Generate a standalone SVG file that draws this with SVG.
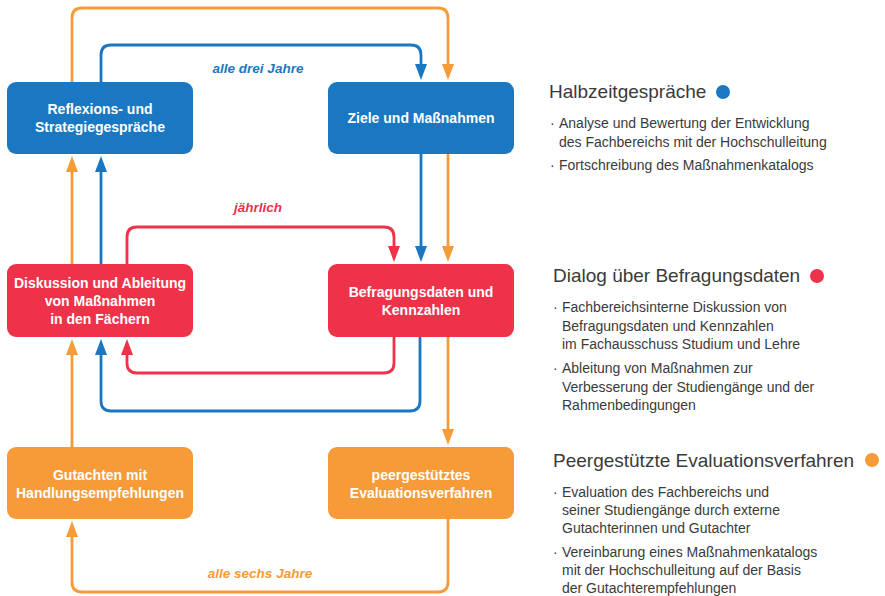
<svg xmlns="http://www.w3.org/2000/svg" width="885" height="596" viewBox="0 0 885 596">
<style>
.blue{fill:#1a77c2}.red{fill:#ee3249}.orange{fill:#f79a38}
.nt{font-family:"Liberation Sans",Arial,sans-serif;font-weight:bold;font-size:14px;fill:#fff;text-anchor:middle}
.lb{font-family:"Liberation Sans",Arial,sans-serif;font-weight:bold;font-style:italic;font-size:13.5px;text-anchor:middle}
.h{font-family:"Liberation Sans",Arial,sans-serif;font-size:19px;fill:#3a3a3a}
.t{font-family:"Liberation Sans",Arial,sans-serif;font-size:14px;fill:#3a3a3a}
.c{fill:none;stroke-width:2.8;stroke-linejoin:round}
.cb{stroke:#1a77c2}.cr{stroke:#ee3249}.co{stroke:#f79a38}
</style>
<defs>
<marker id="mb" viewBox="0 -6 16 12" refX="1" refY="0" markerWidth="16" markerHeight="12" markerUnits="userSpaceOnUse" orient="auto"><path d="M0,-6 L16,0 L0,6z" fill="#1a77c2"/></marker>
<marker id="mr" viewBox="0 -6 16 12" refX="1" refY="0" markerWidth="16" markerHeight="12" markerUnits="userSpaceOnUse" orient="auto"><path d="M0,-6 L16,0 L0,6z" fill="#ee3249"/></marker>
<marker id="mo" viewBox="0 -6 16 12" refX="1" refY="0" markerWidth="16" markerHeight="12" markerUnits="userSpaceOnUse" orient="auto"><path d="M0,-6 L16,0 L0,6z" fill="#f79a38"/></marker>
</defs>

<g id="connectors">
<path class="c co" marker-end="url(#mo)" d="M72,82 V18 Q72,8 82,8 H438 Q448,8 448,18 V65"/>
<path class="c co" marker-end="url(#mo)" d="M448,154 V247"/>
<path class="c co" marker-end="url(#mo)" d="M448,337 V430"/>
<path class="c co" marker-end="url(#mo)" d="M448,519 V582 Q448,592 438,592 H82 Q72,592 72,582 V536"/>
<path class="c co" marker-end="url(#mo)" d="M72,447 V354"/>
<path class="c co" marker-end="url(#mo)" d="M72,264 V171"/>

<path class="c cb" marker-end="url(#mb)" d="M101,82 V55 Q101,45 111,45 H411 Q421,45 421,55 V65"/>
<path class="c cb" marker-end="url(#mb)" d="M421,154 V247"/>
<path class="c cb" marker-end="url(#mb)" d="M420,337 V401 Q420,411 410,411 H111 Q101,411 101,401 V354"/>
<path class="c cb" marker-end="url(#mb)" d="M101,264 V171"/>

<path class="c cr" marker-end="url(#mr)" d="M127,264 V237 Q127,227 137,227 H384 Q394,227 394,237 V247"/>
<path class="c cr" marker-end="url(#mr)" d="M394,337 V363 Q394,373 384,373 H137 Q127,373 127,363 V354"/>

<text class="lb blue" x="258" y="73">alle drei Jahre</text>
<text class="lb red" x="258" y="212">jährlich</text>
<text class="lb orange" x="260" y="578">alle sechs Jahre</text>
</g>

<g id="reflexion">
<rect class="blue" x="7" y="82" width="186" height="72" rx="9"/>
<text class="nt" x="100" y="114">Reflexions- und</text>
<text class="nt" x="100" y="132">Strategiegespräche</text>
</g>
<g id="ziele">
<rect class="blue" x="328" y="82" width="186" height="72" rx="9"/>
<text class="nt" x="421" y="123">Ziele und Maßnahmen</text>
</g>
<g id="diskussion">
<rect class="red" x="7" y="264" width="186" height="73" rx="9"/>
<text class="nt" x="100" y="288">Diskussion und Ableitung</text>
<text class="nt" x="100" y="306">von Maßnahmen</text>
<text class="nt" x="100" y="324">in den Fächern</text>
</g>
<g id="befragung">
<rect class="red" x="328" y="264" width="186" height="73" rx="9"/>
<text class="nt" x="421" y="297">Befragungsdaten und</text>
<text class="nt" x="421" y="315">Kennzahlen</text>
</g>
<g id="gutachten">
<rect class="orange" x="7" y="447" width="186" height="72" rx="9"/>
<text class="nt" x="100" y="480">Gutachten mit</text>
<text class="nt" x="100" y="498">Handlungsempfehlungen</text>
</g>
<g id="peer">
<rect class="orange" x="328" y="447" width="186" height="72" rx="9"/>
<text class="nt" x="421" y="480">peergestütztes</text>
<text class="nt" x="421" y="498">Evaluationsverfahren</text>
</g>

<g id="legend-halbzeit">
<text class="h" x="549" y="98">Halbzeitgespräche</text>
<circle class="blue" cx="723" cy="92" r="7"/>
<text class="t" x="550" y="128">·</text>
<text class="t" x="559" y="128">Analyse und Bewertung der Entwicklung</text>
<text class="t" x="559" y="147">des Fachbereichs mit der Hochschulleitung</text>
<text class="t" x="550" y="170">·</text>
<text class="t" x="559" y="170">Fortschreibung des Maßnahmenkatalogs</text>
</g>
<g id="legend-dialog">
<text class="h" x="553" y="282">Dialog über Befragungsdaten</text>
<circle class="red" cx="817" cy="276" r="7"/>
<text class="t" x="553" y="312">·</text>
<text class="t" x="562" y="312">Fachbereichsinterne Diskussion von</text>
<text class="t" x="562" y="331">Befragungsdaten und Kennzahlen</text>
<text class="t" x="562" y="349">im Fachausschuss Studium und Lehre</text>
<text class="t" x="553" y="373">·</text>
<text class="t" x="562" y="373">Ableitung von Maßnahmen zur</text>
<text class="t" x="562" y="392">Verbesserung der Studiengänge und der</text>
<text class="t" x="562" y="410">Rahmenbedingungen</text>
</g>
<g id="legend-peer">
<text class="h" x="553" y="467">Peergestützte Evaluationsverfahren</text>
<circle class="orange" cx="872" cy="460" r="7"/>
<text class="t" x="553" y="497">·</text>
<text class="t" x="562" y="497">Evaluation des Fachbereichs und</text>
<text class="t" x="562" y="515">seiner Studiengänge durch externe</text>
<text class="t" x="562" y="533">Gutachterinnen und Gutachter</text>
<text class="t" x="553" y="557">·</text>
<text class="t" x="562" y="557">Vereinbarung eines Maßnahmenkatalogs</text>
<text class="t" x="562" y="575">mit der Hochschulleitung auf der Basis</text>
<text class="t" x="562" y="593">der Gutachterempfehlungen</text>
</g>
</svg>
